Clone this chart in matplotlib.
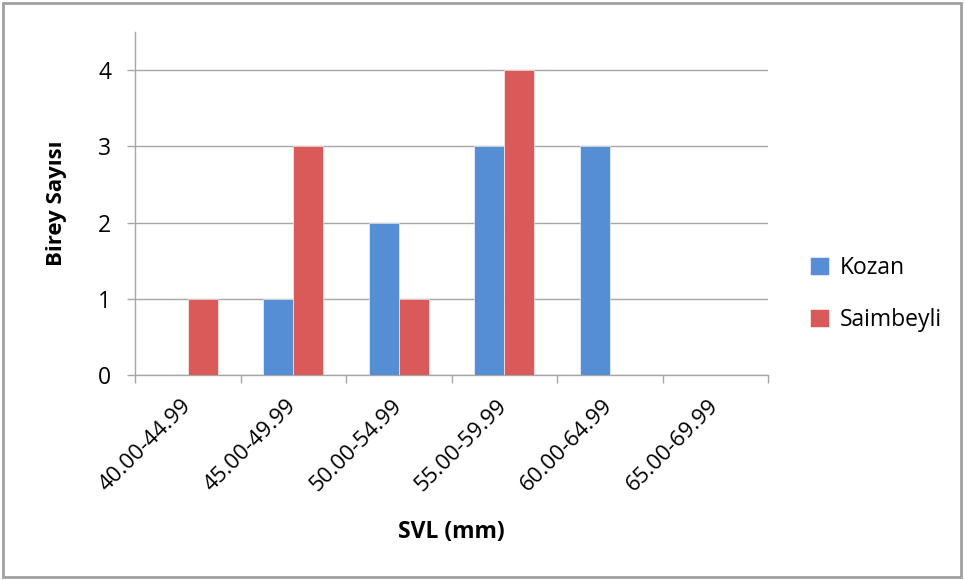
import matplotlib
matplotlib.use("Agg")
import matplotlib.pyplot as plt
import numpy as np
from matplotlib.patches import Rectangle

plt.rcParams["font.family"] = ["Open Sans", "DejaVu Sans"]

# SVL size classes and individual counts per locality
categories = ["40.00-44.99", "45.00-49.99", "50.00-54.99",
              "55.00-59.99", "60.00-64.99", "65.00-69.99"]
kozan = [0, 1, 2, 3, 3, 0]
saimbeyli = [1, 3, 1, 4, 0, 0]
y_ticks = [0, 1, 2, 3, 4]

blue = "#558ED5"
red = "#D95A59"
grid_col = "#A6A6A6"

fig = plt.figure(figsize=(9.64, 5.8), dpi=100)
ax = fig.add_axes([135 / 964, 205 / 580, 633 / 964, 343 / 580])

x = np.arange(len(categories))
w = 1 / 3.5  # gap width 150%
ax.bar(x - w / 2, kozan, width=w, color=blue, edgecolor="white",
       linewidth=0.4, label="Kozan", zorder=3)
ax.bar(x + w / 2, saimbeyli, width=w, color=red, edgecolor="white",
       linewidth=0.4, label="Saimbeyli", zorder=3)

ax.set_xlim(-0.5, len(categories) - 0.5)
ax.set_ylim(0, 4.5)
ax.set_yticks(y_ticks)
ax.yaxis.grid(True, color=grid_col, linewidth=1, zorder=0)

# category ticks sit on the boundaries between classes
ax.set_xticks(np.arange(len(categories) + 1) - 0.5)
ax.set_xticklabels([])
ax.set_xticks(x, minor=True)
ax.set_xticklabels(categories, minor=True, rotation=45, ha="right",
                   va="center", rotation_mode="anchor", fontsize=16,
                   color="#000000")
ax.tick_params(axis="x", which="minor", length=0, pad=20)
ax.tick_params(axis="x", which="major", length=6, color=grid_col, width=1)
ax.tick_params(axis="y", length=6, color=grid_col, width=1, labelsize=16.5,
               pad=11)

for side in ["top", "right"]:
    ax.spines[side].set_visible(False)
for side in ["left", "bottom"]:
    ax.spines[side].set_color(grid_col)
    ax.spines[side].set_linewidth(1)

ax.set_ylabel("Birey Sayısı", fontsize=16, fontweight="bold")
ax.set_xlabel("SVL (mm)", fontsize=16.5, fontweight="bold")
ax.yaxis.set_label_coords(-68 / 633, 0.5)
ax.xaxis.set_label_coords(0.5, -145 / 343)

ax.legend(loc="center left", bbox_to_anchor=(789 / 964, 286 / 580),
          bbox_transform=fig.transFigure, frameon=False, fontsize=16.5,
          handlelength=0.85, handleheight=0.85, handletextpad=0.45,
          labelspacing=1.2)

fig.patches.append(Rectangle((3 / 964, 3 / 580), 958 / 964, 574 / 580,
                             transform=fig.transFigure, fill=False,
                             edgecolor="#A0A0A0", linewidth=2))

fig.savefig("out.png", dpi=100)
